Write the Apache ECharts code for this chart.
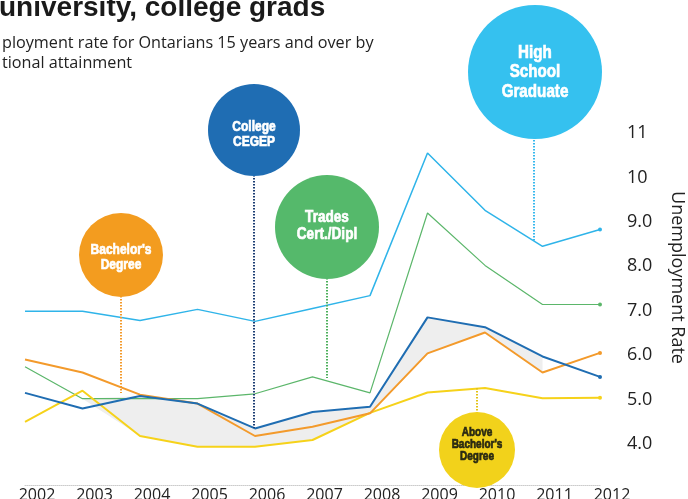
<!DOCTYPE html>
<html>
<head>
<meta charset="utf-8">
<script src="https://cdn.jsdelivr.net/npm/echarts@6/dist/echarts.min.js"></script>
<style>
  html, body { margin: 0; padding: 0; background: #fff; }
  #chart { width: 688px; height: 499px; }
</style>
</head>
<body>
<div id="chart"></div>
<script>
// unemployment rate by educational attainment, Ontario
const years = ['2002', '2003', '2004', '2005', '2006', '2007', '2008', '2009', '2010', '2011', '2012'];
const highSchool = [6.99, 6.99, 6.78, 7.03, 6.76, 7.05, 7.34, 10.55, 9.26, 8.45, 8.83];
const trades = [5.74, 5.02, 5.02, 5.02, 5.13, 5.51, 5.15, 9.2, 8.02, 7.14, 7.14];
const college = [5.15, 4.8, 5.08, 4.91, 4.35, 4.72, 4.84, 6.85, 6.63, 5.97, 5.51];
const bachelor = [5.9, 5.61, 5.11, 4.91, 4.18, 4.39, 4.69, 6.04, 6.51, 5.61, 6.05];
const aboveBachelor = [4.5, 5.2, 4.18, 3.94, 3.94, 4.09, 4.7, 5.16, 5.26, 5.03, 5.04];
const yTicks = [4, 5, 6, 7, 8, 9, 10, 11];

const chart = echarts.init(document.getElementById('chart'));
const font = '"Open Sans", "Noto Sans", sans-serif';
const bubbleFont = '"Liberation Sans", Arial, sans-serif';

// gray band between two lines over a range of years
function band(top, bottom, from, to) {
  const base = years.map((y, i) => (i >= from && i <= to ? Math.min(bottom[i], top[i]) : '-'));
  const diff = years.map((y, i) => (i >= from && i <= to ? top[i] - base[i] : '-'));
  return [base, diff];
}
const topA = college.map((v, i) => (i <= 2 ? Math.max(v, trades[i]) : v));
const [baseA, diffA] = band(topA, aboveBachelor, 1, 6);
const [baseB, diffB] = band(college, bachelor, 6, 9);

function shade(name, base, diff) {
  return [
    { type: 'line', name: name + 'b', stack: name, data: base, symbol: 'none', silent: true,
      lineStyle: { opacity: 0 }, z: 1, clip: false },
    { type: 'line', name: name + 'd', stack: name, data: diff, symbol: 'none', silent: true,
      lineStyle: { opacity: 0 }, areaStyle: { color: '#eeeeee', opacity: 1 }, z: 1, clip: false }
  ];
}

function line(name, data, color, width) {
  return {
    type: 'line', name: name, data: data, z: 3, clip: false,
    symbol: (v, p) => (p.dataIndex === years.length - 1 ? 'circle' : 'none'),
    symbolSize: 4, showAllSymbol: true,
    itemStyle: { color: color },
    lineStyle: { color: color, width: width }
  };
}

// condensed bold label inside a filled circle
function bubble(cx, cy, r, color, text, size, lh, ty, textColor) {
  const fill = textColor || '#fff';
  return [
    { type: 'circle', shape: { cx: cx, cy: cy, r: r }, style: { fill: color }, z: 10 },
    { type: 'text', x: cx, y: ty, scaleX: 0.8, z: 11,
      style: { text: text, fill: fill, stroke: fill, lineWidth: 0.7,
        font: 'bold ' + size + 'px ' + bubbleFont,
        align: 'center', verticalAlign: 'middle', lineHeight: lh } }
  ];
}

function leader(x, y1, y2, color) {
  return { type: 'line', shape: { x1: x, y1: y1, x2: x, y2: y2 }, z: 9,
    style: { stroke: color, lineWidth: 2, lineDash: [1.5, 1.5] } };
}

const option = {
  animation: false,
  grid: { left: 25, right: 88, top: 133, bottom: 55, outerBoundsMode: 'none', containLabel: false },
  xAxis: {
    type: 'category', data: years, boundaryGap: false, offset: 41,
    axisLine: { lineStyle: { color: '#cccccc', type: 'dotted', width: 1 } },
    axisTick: { show: false },
    axisLabel: { color: '#222', fontSize: 16, fontFamily: font, margin: 2, padding: [0, 0, 0, 24], interval: 0 }
  },
  yAxis: {
    type: 'value', position: 'right', min: 4, max: 11, interval: 1,
    name: 'Unemployment Rate', nameLocation: 'middle', nameRotate: -90, nameGap: 68,
    nameTextStyle: { color: '#222', fontSize: 18, fontFamily: font, padding: [0, 22, 0, 0] },
    axisLine: { show: false }, axisTick: { show: false }, splitLine: { show: false },
    axisLabel: {
      color: '#222', fontSize: 18, fontFamily: font, margin: 27,
      formatter: v => (yTicks.indexOf(v) < 0 ? '' : v >= 10 ? String(v) : v.toFixed(1))
    }
  },
  series: [
    ...shade('a', baseA, diffA),
    ...shade('b', baseB, diffB),
    line('High School Graduate', highSchool, '#2fb4e9', 1.5),
    line('Trades Cert./Dipl', trades, '#5bb66a', 1.2),
    line('Above Bachelor\'s Degree', aboveBachelor, '#f6d21a', 2),
    line('Bachelor\'s Degree', bachelor, '#f39a2b', 2),
    line('College CEGEP', college, '#1f6db2', 2)
  ],
  graphic: [
    { type: 'text', x: -1, y: -6,
      style: { text: 'university, college grads', fill: '#1a1a1a', font: 'bold 28px "Liberation Sans", Arial, sans-serif' } },
    { type: 'text', x: 2, y: 33,
      style: { text: 'ployment rate for Ontarians 15 years and over by\ntional attainment', fill: '#222',
        font: '16.2px ' + font, lineHeight: 20 } },
    leader(121, 296, 393, '#f39a2b'),
    leader(254, 175, 428, '#1b3c73'),
    leader(327, 278, 378, '#4caf5b'),
    leader(534, 137, 241, '#36b8ee'),
    leader(477, 388, 413, '#e3c317'),
    ...bubble(121, 255, 42, '#f39c1f', 'Bachelor\'s\nDegree', 15, 15, 257),
    ...bubble(254, 130, 46, '#1f6db3', 'College\nCEGEP', 15, 15, 134),
    ...bubble(327, 227, 52, '#55b96b', 'Trades\nCert./Dipl', 17, 17, 226),
    ...bubble(535, 72, 67, '#35c1ef', 'High\nSchool\nGraduate', 19, 19.5, 72),
    ...bubble(477, 450, 38, '#f2d21b', 'Above\nBachelor\'s\nDegree', 12.5, 12, 445, '#2a2a12')
  ]
};
chart.setOption(option);
</script>
</body>
</html>
